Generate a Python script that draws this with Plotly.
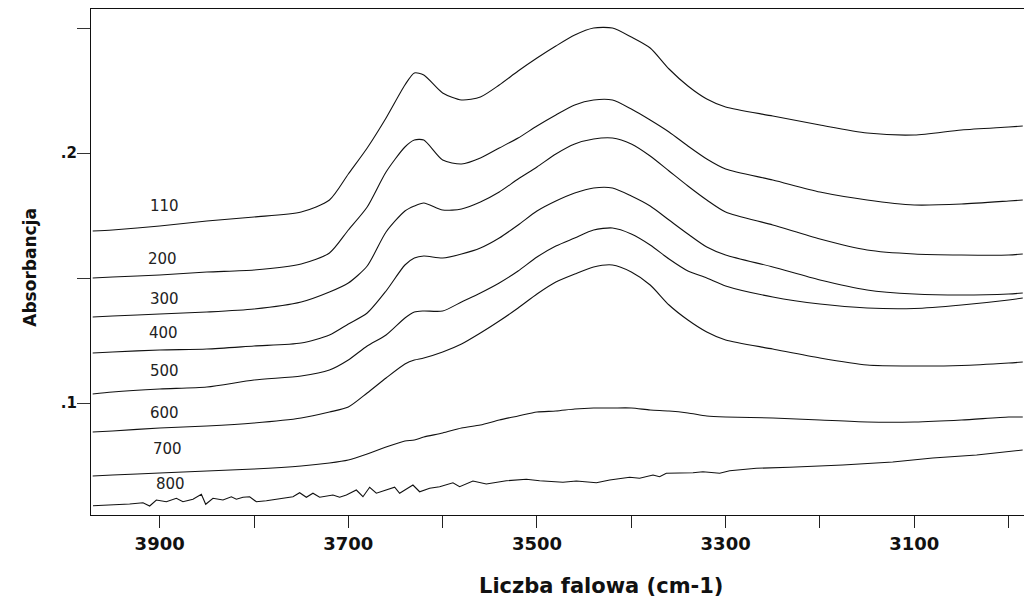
import plotly.graph_objects as go

# Wavenumber grid (cm-1) shared by curves 110-700
wavenumber = [3971, 3950, 3900, 3850, 3800, 3750, 3720, 3700, 3680, 3660, 3640, 3630,
              3620, 3600, 3580, 3560, 3540, 3520, 3500, 3480, 3460, 3440, 3420, 3400,
              3380, 3360, 3340, 3320, 3300, 3250, 3200, 3150, 3100, 3050, 3000, 2985]

abs_110 = [0.1688, 0.1692, 0.1708, 0.1728, 0.1744, 0.1764, 0.1812, 0.1916, 0.2020, 0.2140,
           0.2272, 0.2320, 0.2312, 0.2240, 0.2212, 0.2224, 0.2272, 0.2328, 0.2380, 0.2428,
           0.2472, 0.2500, 0.2500, 0.2464, 0.2420, 0.2336, 0.2268, 0.2216, 0.2184, 0.2148,
           0.2112, 0.2080, 0.2072, 0.2092, 0.2104, 0.2108]
abs_200 = [0.1500, 0.1504, 0.1512, 0.1524, 0.1532, 0.1556, 0.1600, 0.1692, 0.1784, 0.1924,
           0.2024, 0.2052, 0.2052, 0.1972, 0.1956, 0.1980, 0.2020, 0.2060, 0.2108, 0.2152,
           0.2192, 0.2212, 0.2212, 0.2176, 0.2132, 0.2084, 0.2028, 0.1976, 0.1936, 0.1892,
           0.1844, 0.1812, 0.1792, 0.1796, 0.1808, 0.1812]
abs_300 = [0.1344, 0.1348, 0.1356, 0.1364, 0.1376, 0.1404, 0.1444, 0.1480, 0.1548, 0.1684,
           0.1768, 0.1788, 0.1800, 0.1772, 0.1776, 0.1804, 0.1844, 0.1896, 0.1944, 0.1996,
           0.2036, 0.2056, 0.2060, 0.2036, 0.1988, 0.1928, 0.1868, 0.1812, 0.1764, 0.1712,
           0.1656, 0.1612, 0.1596, 0.1592, 0.1592, 0.1596]
abs_400 = [0.1200, 0.1204, 0.1212, 0.1216, 0.1228, 0.1240, 0.1272, 0.1316, 0.1360, 0.1448,
           0.1552, 0.1580, 0.1588, 0.1580, 0.1596, 0.1620, 0.1660, 0.1712, 0.1768, 0.1808,
           0.1840, 0.1860, 0.1860, 0.1828, 0.1788, 0.1732, 0.1676, 0.1624, 0.1592, 0.1544,
           0.1492, 0.1452, 0.1436, 0.1432, 0.1436, 0.1440]
abs_500 = [0.1036, 0.1044, 0.1056, 0.1064, 0.1092, 0.1108, 0.1132, 0.1172, 0.1228, 0.1272,
           0.1340, 0.1364, 0.1368, 0.1368, 0.1404, 0.1440, 0.1480, 0.1528, 0.1584, 0.1628,
           0.1660, 0.1692, 0.1700, 0.1676, 0.1632, 0.1576, 0.1528, 0.1500, 0.1468, 0.1424,
           0.1396, 0.1380, 0.1378, 0.1392, 0.1412, 0.1420]
abs_600 = [0.0884, 0.0888, 0.0900, 0.0908, 0.0920, 0.0940, 0.0964, 0.0984, 0.1040, 0.1100,
           0.1156, 0.1172, 0.1180, 0.1204, 0.1236, 0.1280, 0.1328, 0.1380, 0.1436, 0.1484,
           0.1516, 0.1544, 0.1552, 0.1524, 0.1472, 0.1392, 0.1332, 0.1284, 0.1252, 0.1216,
           0.1180, 0.1152, 0.1148, 0.1150, 0.1160, 0.1164]
abs_700 = [0.0708, 0.0712, 0.0720, 0.0728, 0.0736, 0.0748, 0.0760, 0.0772, 0.0796, 0.0824,
           0.0848, 0.0852, 0.0864, 0.0880, 0.0900, 0.0912, 0.0932, 0.0948, 0.0964, 0.0968,
           0.0976, 0.0980, 0.0980, 0.0980, 0.0972, 0.0968, 0.0960, 0.0948, 0.0944, 0.0940,
           0.0932, 0.0924, 0.0924, 0.0932, 0.0944, 0.0944]

# Curve 800 is noisy: its own, denser wavenumber list
wavenumber_800 = [3970.7, 3949.5, 3931.8, 3917.7, 3910.6, 3903.5, 3892.9, 3882.3, 3875.3,
                  3864.7, 3855.8, 3851.2, 3843.5, 3832.9, 3824.0, 3818.7, 3811.7, 3804.6,
                  3797.5, 3786.9, 3772.8, 3758.7, 3751.6, 3744.5, 3737.5, 3730.4, 3716.3,
                  3709.2, 3702.1, 3691.5, 3684.5, 3677.4, 3670.3, 3659.7, 3650.9, 3645.6,
                  3631.5, 3624.4, 3613.8, 3603.2, 3589.1, 3582.0, 3567.9, 3553.7, 3532.5,
                  3511.3, 3497.2, 3472.5, 3458.3, 3437.0, 3422.9, 3401.7, 3391.2, 3377.0,
                  3370.0, 3362.9, 3334.6, 3324.1, 3306.3, 3295.7, 3267.4, 3232.1, 3175.9,
                  3122.9, 3080.5, 3033.9, 2985.1]
abs_800 = [0.0589, 0.0592, 0.0596, 0.0601, 0.0588, 0.0612, 0.0605, 0.0619, 0.0605,
           0.0615, 0.0635, 0.0595, 0.0619, 0.0612, 0.0625, 0.0615, 0.0623, 0.0625,
           0.0605, 0.0609, 0.0616, 0.0625, 0.0641, 0.0623, 0.0639, 0.0623, 0.0632,
           0.0623, 0.0632, 0.0652, 0.0625, 0.0663, 0.0639, 0.0652, 0.0663, 0.0639,
           0.0672, 0.0645, 0.0659, 0.0665, 0.0681, 0.0665, 0.0688, 0.0676, 0.0689,
           0.0695, 0.0689, 0.0683, 0.0688, 0.0681, 0.0692, 0.0703, 0.0699, 0.0712,
           0.0705, 0.0719, 0.0721, 0.0725, 0.0719, 0.0729, 0.0739, 0.0743, 0.0752,
           0.0764, 0.0780, 0.0792, 0.0812]

curve_names = ["110", "200", "300", "400", "500", "600", "700", "800"]
label_wn = [3894.7, 3896.8, 3894.7, 3895.8, 3894.7, 3894.7, 3892.0, 3888.9]
label_abs = [0.1788, 0.1576, 0.1418, 0.1282, 0.1128, 0.0962, 0.0816, 0.0676]

x_tickvals = [3900, 3800, 3700, 3600, 3500, 3400, 3300, 3200, 3100, 3000]
x_ticktext = ["3900", "", "3700", "", "3500", "", "3300", "", "3100", ""]
y_tickvals = [0.10, 0.15, 0.20, 0.25]
y_ticktext = [".1", "", ".2", ""]

series = [(wavenumber, abs_110), (wavenumber, abs_200), (wavenumber, abs_300),
          (wavenumber, abs_400), (wavenumber, abs_500), (wavenumber, abs_600),
          (wavenumber, abs_700), (wavenumber_800, abs_800)]

FONT = "DejaVu Sans"
fig = go.Figure()
for name, (xs, ys) in zip(curve_names, series):
    smooth = name != "800"
    fig.add_trace(go.Scatter(
        x=xs, y=ys, mode="lines", name=name,
        line=dict(color="#111111", width=1.1,
                  shape="spline" if smooth else "linear",
                  smoothing=0.7 if smooth else None),
        showlegend=False, hoverinfo="skip"))

for name, lx, ly in zip(curve_names, label_wn, label_abs):
    fig.add_annotation(x=lx, y=ly, xref="x", yref="y", text=name, showarrow=False,
                       font=dict(family=FONT, size=15, color="#222222"),
                       xanchor="center", yanchor="middle")

fig.add_annotation(x=0.547, y=-0.14, xref="paper", yref="paper",
                   text="Liczba falowa (cm-1)", showarrow=False,
                   font=dict(family=FONT, size=21, color="#111111", weight="bold"),
                   xanchor="center", yanchor="middle")
fig.add_annotation(x=-0.0654, y=0.4906, xref="paper", yref="paper",
                   text="Absorbancja", showarrow=False, textangle=-90,
                   font=dict(family=FONT, size=17, color="#111111", weight="bold"),
                   xanchor="center", yanchor="middle")

fig.update_layout(
    width=1024, height=598,
    margin=dict(l=91, r=0, t=9, b=83),
    paper_bgcolor="white", plot_bgcolor="white",
    xaxis=dict(range=[3972.8, 2983.7], tickvals=x_tickvals, ticktext=x_ticktext,
               ticks="outside", ticklen=12, tickwidth=1, tickcolor="#222222",
               showline=True, linecolor="#111111", linewidth=1.3, mirror=True,
               showgrid=False, zeroline=False,
               tickfont=dict(family=FONT, size=18, color="#111111", weight="bold")),
    yaxis=dict(range=[0.0552, 0.2576], tickvals=y_tickvals, ticktext=y_ticktext,
               ticks="outside", ticklen=13, tickwidth=1, tickcolor="#333333",
               showline=True, linecolor="#111111", linewidth=1.3, mirror=False,
               showgrid=False, zeroline=False, ticklabelstandoff=-3,
               tickfont=dict(family=FONT, size=15, color="#111111", weight="bold")),
)

fig.write_html("out.html")
